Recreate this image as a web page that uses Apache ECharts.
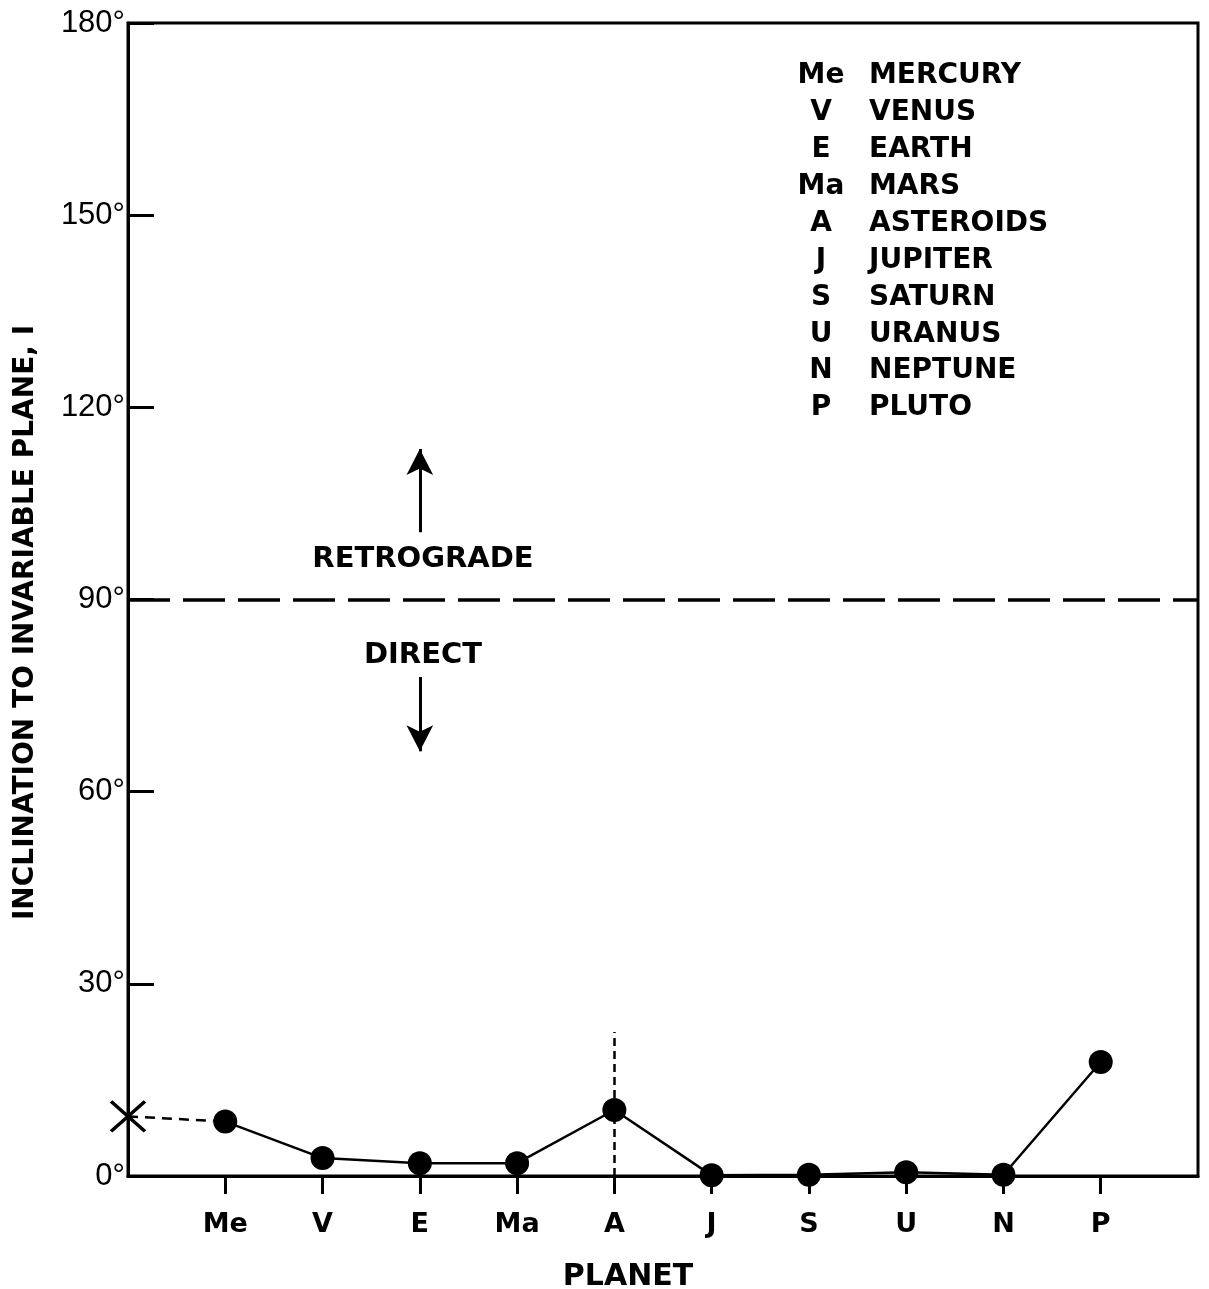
<!DOCTYPE html>
<html>
<head>
<meta charset="utf-8">
<script src="https://cdn.jsdelivr.net/npm/echarts@6/dist/echarts.min.js"></script>
<style>
  html, body { margin: 0; padding: 0; background: #fff; }
  #main { width: 1209px; height: 1289px; }
</style>
</head>
<body>
<div id="main"></div>
<script>
// categories on the x axis (blank ones at both ends keep the spacing of the figure)
var categories = ['', 'Me', 'V', 'E', 'Ma', 'A', 'J', 'S', 'U', 'N', 'P', ' '];
var planets = ['Me', 'V', 'E', 'Ma', 'A', 'J', 'S', 'U', 'N', 'P'];
var planetNames = ['MERCURY', 'VENUS', 'EARTH', 'MARS', 'ASTEROIDS', 'JUPITER', 'SATURN', 'URANUS', 'NEPTUNE', 'PLUTO'];
// inclination to invariable plane, degrees
var inclination = [8.5, 2.8, 2.0, 2.0, 10.3, 0.1, 0.2, 0.6, 0.2, 17.8];
// the cross on the axis and the dashed spread above the asteroids
var crossValue = 9.3;
var asteroidSpread = 22.5;
var yMin = 0, yMax = 180, yStep = 30;

var boldFont = 'DejaVu Sans';

function initChart() {
    var myChart = echarts.init(document.getElementById('main'));

    var mainData = planets.map(function (p, i) { return [i + 1, inclination[i]]; });

    // legend of abbreviations, top right
    var legendGraphics = [];
    planets.forEach(function (p, i) {
        var y = 76 + i * 36.9;
        legendGraphics.push({
            type: 'text', x: 821, y: y,
            style: { text: p, font: 'bold 28px ' + boldFont, fill: '#000', align: 'center', verticalAlign: 'middle' }
        });
        legendGraphics.push({
            type: 'text', x: 869, y: y,
            style: { text: planetNames[i], font: 'bold 28px ' + boldFont, fill: '#000', align: 'left', verticalAlign: 'middle' }
        });
    });
    legendGraphics.push({
        type: 'text', x: 423, y: 559,
        style: { text: 'RETROGRADE', font: 'bold 29px ' + boldFont, fill: '#000', align: 'center', verticalAlign: 'middle' }
    });
    legendGraphics.push({
        type: 'text', x: 423, y: 655,
        style: { text: 'DIRECT', font: 'bold 29px ' + boldFont, fill: '#000', align: 'center', verticalAlign: 'middle' }
    });

    var option = {
        backgroundColor: '#fff',
        animation: false,
        grid: {
            left: 128, right: 11, top: 23, bottom: 113,
            containLabel: false,
            outerBoundsMode: 'none',
            show: true, borderColor: '#000', borderWidth: 3
        },
        xAxis: {
            type: 'category',
            data: categories,
            boundaryGap: false,
            name: 'PLANET',
            nameLocation: 'middle',
            nameGap: 86,
            nameTextStyle: { fontFamily: boldFont, fontWeight: 'bold', fontSize: 30, color: '#000', padding: [0, 70, 0, 0] },
            axisLine: { lineStyle: { color: '#000', width: 3 } },
            axisTick: {
                length: 18, lineStyle: { color: '#000', width: 3 },
                interval: function (index, value) { return String(value).trim() !== ''; }
            },
            axisLabel: { interval: 0, margin: 35, fontFamily: boldFont, fontWeight: 'bold', fontSize: 27, color: '#000' },
            splitLine: { show: false }
        },
        yAxis: {
            type: 'value',
            min: yMin, max: yMax, interval: yStep,
            name: 'INCLINATION TO INVARIABLE PLANE, I',
            nameLocation: 'middle',
            nameGap: 88,
            nameTextStyle: { fontFamily: boldFont, fontWeight: 'bold', fontSize: 28, color: '#000', padding: [0, 46, 0, 0] },
            axisLine: { show: true, lineStyle: { color: '#000', width: 3 } },
            axisTick: { show: true, inside: true, length: 26, lineStyle: { color: '#000', width: 3 } },
            axisLabel: { margin: 3, fontFamily: 'Liberation Sans', fontSize: 31, color: '#000', formatter: '{value}°' },
            splitLine: { show: false }
        },
        graphic: legendGraphics,
        series: [
            {
                name: 'cross',
                type: 'line',
                data: [[0, crossValue], [1, inclination[0]]],
                symbol: 'none',
                lineStyle: { color: '#000', width: 2.5, type: [10, 7] },
                z: 3
            },
            {
                name: 'crossMark',
                type: 'scatter',
                data: [[0, crossValue]],
                symbol: 'path://M0,0L10,10M10,0L0,10',
                symbolSize: [34, 30],
                itemStyle: { color: 'none', borderColor: '#000', borderWidth: 3.5, opacity: 1 },
                z: 4
            },
            {
                name: 'inclination',
                type: 'line',
                data: mainData,
                symbol: 'circle',
                symbolSize: 24,
                lineStyle: { color: '#000', width: 2.5 },
                itemStyle: { color: '#000' },
                z: 5,
                markLine: {
                    silent: true,
                    symbol: 'none',
                    label: { show: false },
                    data: [
                        [{ coord: [0, 90], lineStyle: { color: '#000', width: 3.5, type: [42, 13] } },
                         { coord: [categories.length - 1, 90] }],
                        [{ coord: ['A', 0], lineStyle: { color: '#000', width: 2.5, type: [8, 5] } },
                         { coord: ['A', asteroidSpread] }],
                        [{ coord: ['E', 100.5], symbol: 'none', lineStyle: { color: '#000', width: 3, type: 'solid' } },
                         { coord: ['E', 113.5], symbol: 'arrow', symbolSize: [20, 26] }],
                        [{ coord: ['E', 77.9], symbol: 'none', lineStyle: { color: '#000', width: 3, type: 'solid' } },
                         { coord: ['E', 66.3], symbol: 'arrow', symbolSize: [20, 26] }]
                    ]
                }
            }
        ]
    };

    myChart.setOption(option);
    window.addEventListener('resize', function () { myChart.resize(); });
}

initChart();
</script>
</body>
</html>
